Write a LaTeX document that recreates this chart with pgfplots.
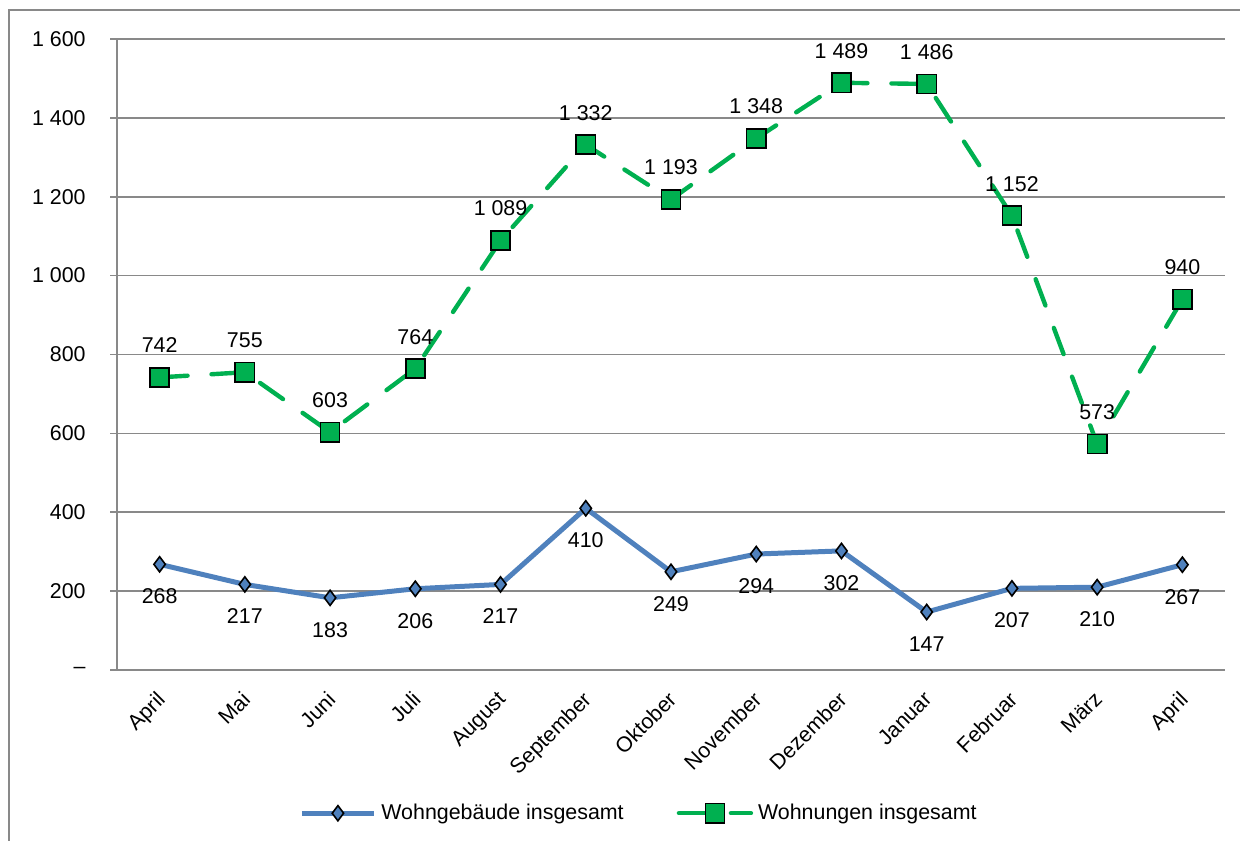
\documentclass[border=0pt]{standalone}
\usepackage{pgfplots}
\pgfplotsset{compat=1.18}
\usepackage{pgfplotstable}
\usepackage{fontspec}
\setmainfont{Liberation Sans}
\definecolor{bl}{HTML}{4F81BD}
\definecolor{gr}{HTML}{00B050}
\definecolor{gridc}{HTML}{898989}
\pgfplotstableread{
x b bl g gl
0 268 268 742 742
1 217 217 755 755
2 183 183 603 603
3 206 206 764 764
4 217 217 1089 1~089
5 410 410 1332 1~332
6 249 249 1193 1~193
7 294 294 1348 1~348
8 302 302 1489 1~489
9 147 147 1486 1~486
10 207 207 1152 1~152
11 210 210 573 573
12 267 267 940 940
}\data
\begin{document}
\begin{tikzpicture}
\useasboundingbox (0,0) rectangle (620bp,420.5bp);
\draw[gridc, line width=0.8bp] (4.6bp,-5bp) -- (4.6bp,415.6bp) -- (630bp,415.6bp);
\begin{axis}[
  at={(58.5bp,85.5bp)}, anchor=south west,
  scale only axis, width=554bp, height=315.5bp,
  xmin=-0.5, xmax=12.5, ymin=0, ymax=1600,
  axis lines*=left,
  axis line style={gridc, line width=0.8bp},
  font=\fontsize{10.7bp}{12bp}\selectfont,
  ytick={0,200,...,1600},
  yticklabels={–,200,400,600,800,1 000,1 200,1 400,1 600},
  ymajorgrids,
  grid style={gridc, line width=0.8bp},
  major tick length=3.5bp, minor tick length=3.5bp,
  tick align=outside,
  tick style={gridc, line width=0.8bp},
  xtick={0,...,12},
  xtick style={draw=none},
  minor xtick={-0.5,0.5,...,12.5},
  minor x tick style={gridc, line width=0.8bp},
  xticklabels={April,Mai,Juni,Juli,August,September,Oktober,November,Dezember,Januar,Februar,März,April},
  xticklabel style={rotate=45, anchor=north east, inner sep=0pt, xshift=-6bp, yshift=-3bp},
  yticklabel style={inner sep=0pt, xshift=-12bp},
  legend style={at={(0.4725,-0.227)}, anchor=center, draw=none, fill=none,
    legend columns=2, inner sep=0pt,
    /tikz/every even column/.append style={column sep=24bp},
    nodes={inner sep=2.5bp}},
  legend image code/.code={\draw[mark repeat=2, mark phase=2, #1] plot coordinates {(0bp,0bp) (18bp,0bp) (36bp,0bp)};},
  point meta=explicit symbolic,
  nodes near coords={\pgfplotspointmeta},
  clip=false,
]
\addplot[bl, line width=2.5bp, mark=diamond*, mark size=3.8bp,
  mark options={solid, fill=bl, draw=black, line width=0.8bp},
  every node near coord/.append style={black, anchor=center, yshift=-16bp}]
  table[x=x, y=b, meta=bl] {\data};
\addlegendentry{Wohngebäude insgesamt}
\addplot[gr, line width=2.2bp, line cap=round, dash pattern=on 14bp off 12bp,
  mark=square*, mark size=4.8bp,
  mark options={solid, fill=gr, draw=black, line width=0.8bp},
  every node near coord/.append style={black, anchor=center, yshift=16bp}]
  table[x=x, y=g, meta=gl] {\data};
\addlegendentry{Wohnungen insgesamt}
\end{axis}
\end{tikzpicture}
\end{document}
